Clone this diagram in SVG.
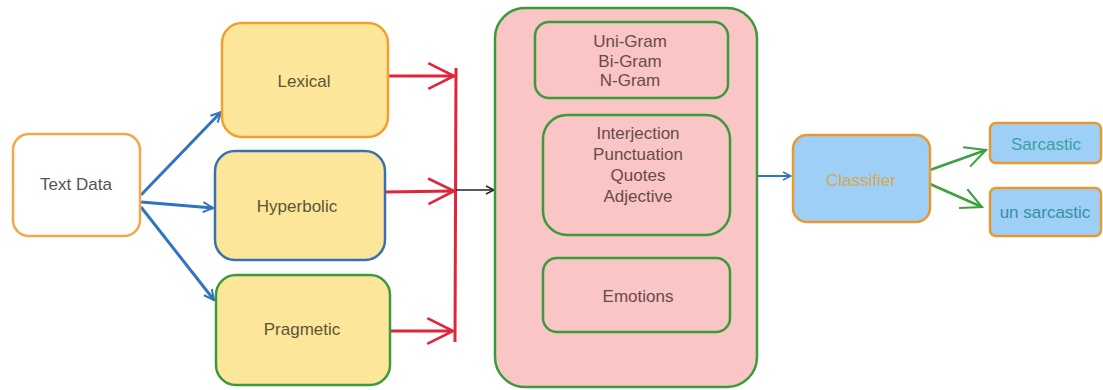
<svg xmlns="http://www.w3.org/2000/svg" width="1103" height="390" viewBox="0 0 1103 390">
<defs>
<style>
text{font-family:"Liberation Sans",Arial,sans-serif;font-size:17px;fill:#555;text-anchor:middle;dominant-baseline:central}
.yel{fill:#fce69a;stroke-width:2.5}
.yt{fill:#5e5535}
.pt{fill:#6a4a4a}
.pink{fill:#f9c5c5;stroke:#3c9a3c;stroke-width:2.5}
.blue{stroke:#2f74c0;stroke-width:3;fill:none}
.red{stroke:#e0253a;stroke-width:3;fill:none}
.grn{stroke:#3aa040;stroke-width:2.5;fill:none}
</style>
<marker id="ab" viewBox="0 0 12 12" refX="11" refY="6" markerWidth="12" markerHeight="12" markerUnits="userSpaceOnUse" orient="auto"><path d="M1,1 L11,6 L1,11" fill="none" stroke="#2f74c0" stroke-width="2"/></marker>
<marker id="ar" viewBox="0 0 14 14" refX="13" refY="7" markerWidth="30" markerHeight="30" markerUnits="userSpaceOnUse" orient="auto"><path d="M1,1 L13,7 L1,13" fill="none" stroke="#e0253a" stroke-width="1.2"/></marker>
<marker id="ak" viewBox="0 0 10 10" refX="9" refY="5" markerWidth="10" markerHeight="10" markerUnits="userSpaceOnUse" orient="auto"><path d="M1,1 L9,5 L1,9" fill="none" stroke="#222" stroke-width="1.5"/></marker>
<marker id="abs" viewBox="0 0 10 10" refX="9" refY="5" markerWidth="10" markerHeight="10" markerUnits="userSpaceOnUse" orient="auto"><path d="M1,1 L9,5 L1,9" fill="none" stroke="#2f74c0" stroke-width="1.5"/></marker>
<marker id="ag" viewBox="0 0 14 14" refX="13" refY="7" markerWidth="24" markerHeight="24" markerUnits="userSpaceOnUse" orient="auto"><path d="M1,1 L13,7 L1,13" fill="none" stroke="#3aa040" stroke-width="1.2"/></marker>
</defs>
<rect width="1103" height="390" fill="#fff"/>
<g id="connectors">
<path class="blue" d="M141,195 L221,112" marker-end="url(#ab)"/>
<path class="blue" d="M141,202 L213,208" marker-end="url(#ab)"/>
<path class="blue" d="M141,207 L214,300" marker-end="url(#ab)"/>
<path class="red" d="M388,76 L454,76" marker-end="url(#ar)"/>
<path class="red" d="M385,192 L454,191" marker-end="url(#ar)"/>
<path class="red" d="M390,331 L453,331" marker-end="url(#ar)"/>
<path class="red" d="M456,68 L455,342"/>
<path d="M456,190 L494,190" stroke="#222" stroke-width="1.5" fill="none" marker-end="url(#ak)"/>
<path d="M758,176 L791,176" stroke="#2f74c0" stroke-width="2" fill="none" marker-end="url(#abs)"/>
<path class="grn" d="M930,170 L986,150" marker-end="url(#ag)"/>
<path class="grn" d="M930,184 L982,207" marker-end="url(#ag)"/>
</g>
<g id="text-data"><rect x="13" y="134" width="127" height="102" rx="16" fill="#fff" stroke="#f0a848" stroke-width="2.5"/><text x="76" y="184">Text Data</text></g>
<g id="lexical"><rect class="yel" x="222" y="23" width="166" height="114" rx="20" stroke="#f0a030"/><text class="yt" x="304" y="81">Lexical</text></g>
<g id="hyperbolic"><rect class="yel" x="215" y="151" width="170" height="109" rx="20" stroke="#3a6fb0"/><text class="yt" x="297" y="206">Hyperbolic</text></g>
<g id="pragmetic"><rect class="yel" x="216" y="275" width="174" height="110" rx="20" stroke="#3c9a3c"/><text class="yt" x="302" y="329">Pragmetic</text></g>
<g id="features"><rect class="pink" x="495" y="8" width="262" height="379" rx="30"/></g>
<g id="ngram"><rect class="pink" x="535" y="22" width="193" height="76" rx="14"/><text class="pt" x="630" y="41">Uni-Gram</text><text class="pt" x="630" y="61">Bi-Gram</text><text class="pt" x="630" y="80">N-Gram</text></g>
<g id="lexfeat"><rect class="pink" x="543" y="115" width="187" height="120" rx="24"/><text class="pt" x="638" y="133">Interjection</text><text class="pt" x="638" y="154">Punctuation</text><text class="pt" x="638" y="175">Quotes</text><text class="pt" x="638" y="196">Adjective</text></g>
<g id="emotions"><rect class="pink" x="543" y="258" width="187" height="74" rx="14"/><text class="pt" x="638" y="296">Emotions</text></g>
<g id="classifier"><rect x="793" y="135" width="137" height="87" rx="14" fill="#9ecff6" stroke="#e89a30" stroke-width="2.5"/><text x="861" y="180" style="fill:#d8a850">Classifier</text></g>
<g id="sarcastic"><rect x="990" y="123" width="111" height="40" rx="6" fill="#9ecff6" stroke="#e89a30" stroke-width="2.5"/><text x="1046" y="144" style="fill:#3aa0a0">Sarcastic</text></g>
<g id="un-sarcastic"><rect x="990" y="188" width="111" height="48" rx="6" fill="#9ecff6" stroke="#e89a30" stroke-width="2.5"/><text x="1045" y="212" style="fill:#3a8fa0">un sarcastic</text></g>
</svg>
